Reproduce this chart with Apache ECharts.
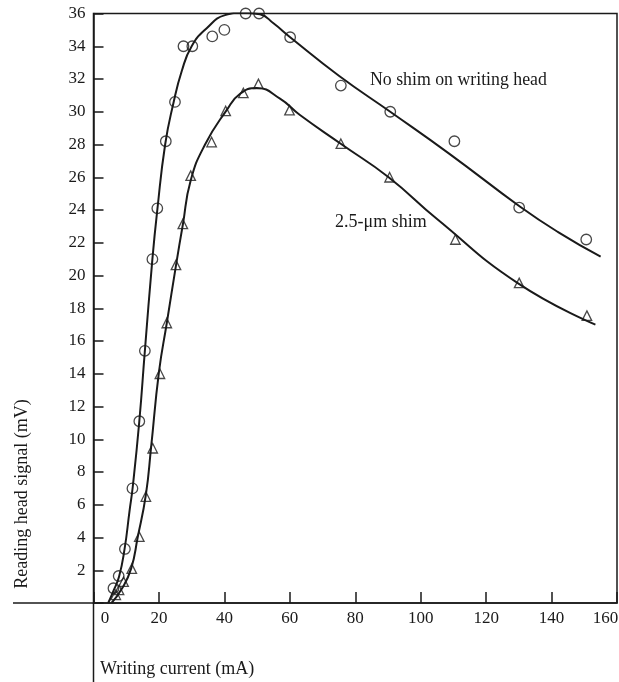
<!DOCTYPE html>
<html><head><meta charset="utf-8">
<script src="https://cdn.jsdelivr.net/npm/echarts@6/dist/echarts.min.js"></script>
<style>html,body{margin:0;padding:0;background:#fff}#c{width:619px;height:682px}</style>
</head><body><div id="c"></div>
<script>
// ---- data ----
const xTickValues = [0, 20, 40, 60, 80, 100, 120, 140, 160];
const yTickValues = [2, 4, 6, 8, 10, 12, 14, 16, 18, 20, 22, 24, 26, 28, 30, 32, 34, 36];
const seriesNames = ['No shim on writing head', '2.5-\u03bcm shim'];
const xAxisTitle = 'Writing current (mA)';
const yAxisTitle = 'Reading head signal (mV)';

// measured points: No shim (circles)
const noShimPoints = [
  [6.1, 0.9], [7.7, 1.65], [9.6, 3.3], [11.9, 7.0], [14.0, 11.1], [15.7, 15.4],
  [18.0, 21.0], [19.5, 24.1], [22.1, 28.2], [24.9, 30.6], [27.5, 34.0], [30.2, 34.0],
  [36.3, 34.6], [40.0, 35.0], [46.5, 36.0], [50.6, 36.0], [60.1, 34.55],
  [75.6, 31.6], [90.7, 30.0], [110.3, 28.2], [130.1, 24.15], [150.6, 22.2]
];
// measured points: 2.5-um shim (triangles)
const shimPoints = [
  [6.8, 0.5], [7.8, 0.8], [9.2, 1.3], [11.7, 2.1], [14.0, 4.05], [16.0, 6.5],
  [18.1, 9.45], [20.3, 14.0], [22.4, 17.1], [25.2, 20.65], [27.3, 23.15], [29.7, 26.1],
  [36.1, 28.15], [40.4, 30.05], [45.8, 31.15], [50.4, 31.7], [59.9, 30.1],
  [75.6, 28.05], [90.5, 26.0], [110.6, 22.2], [130.1, 19.55], [150.8, 17.55]
];
// fitted curves
const noShimCurve = [
  [4.5, 0], [6.0, 0.7], [7.8, 1.6], [9.5, 3.3], [11.0, 5.6], [12.0, 7.1], [14.0, 11.1],
  [15.7, 15.4], [18.0, 21.0], [19.5, 24.0], [21.9, 28.0], [24.4, 30.5], [27.0, 32.5],
  [30.0, 34.0], [34.6, 35.1], [40.2, 35.9], [45.8, 36.05], [50.9, 35.95], [55.0, 35.4],
  [60.1, 34.55], [75.0, 32.2], [90.7, 30.0], [109.0, 27.4], [130.4, 24.2], [142.0, 22.65],
  [155.0, 21.15]
];
const shimCurve = [
  [5.5, 0], [8.6, 0.85], [11.5, 2.1], [13.5, 4.0], [16.0, 6.6], [17.6, 9.5], [20.0, 14.1],
  [22.4, 17.1], [25.2, 20.6], [27.3, 23.1], [29.7, 25.8], [34.1, 28.0], [40.7, 30.1],
  [44.8, 31.1], [49.9, 31.45], [57.0, 30.8], [63.1, 29.8], [75.9, 28.0], [90.2, 26.0],
  [105.0, 23.45], [129.9, 19.5], [153.4, 17.0]
];

// ---- chart ----
const FONT = '"Liberation Serif", "DejaVu Serif", serif';
const INK = '#1a1a1a';
const chart = echarts.init(document.getElementById('c'), null, {renderer: 'canvas'});
const L = 93.5, R = 2, T = 13.5, B = 79;

chart.setOption({
  animation: false,
  backgroundColor: '#fff',
  grid: {left: L, right: R, top: T, bottom: B, containLabel: false, outerBoundsMode: 'none',
         show: true, borderColor: INK, borderWidth: 1.5, backgroundColor: 'transparent'},
  xAxis: {
    type: 'value', min: xTickValues[0], max: xTickValues[xTickValues.length - 1], interval: 20,
    axisLine: {lineStyle: {color: INK, width: 1.5}},
    axisTick: {inside: true, length: 11, lineStyle: {color: INK, width: 1.5}},
    splitLine: {show: false},
    axisLabel: {
      color: INK, fontFamily: FONT, fontSize: 17, margin: 7,
      formatter: function (v) {
        if (v === xTickValues[0]) return '{a|' + v + '}';
        if (v === xTickValues[xTickValues.length - 1]) return '{b|' + v + '}';
        return String(v);
      },
      rich: {
        a: {fontFamily: FONT, fontSize: 17, color: INK, padding: [0, 0, 0, 23]},
        b: {fontFamily: FONT, fontSize: 17, color: INK, padding: [0, 23, 0, 0]}
      }
    }
  },
  yAxis: {
    type: 'value', min: 0, max: yTickValues[yTickValues.length - 1], interval: 2,
    axisLine: {lineStyle: {color: INK, width: 1.5}},
    axisTick: {inside: true, length: 10, lineStyle: {color: INK, width: 1.5}},
    splitLine: {show: false},
    axisLabel: {
      color: INK, fontFamily: FONT, fontSize: 17, margin: 8,
      formatter: function (v) { return yTickValues.indexOf(v) >= 0 ? String(v) : ''; }
    }
  },
  series: [
    {type: 'line', name: seriesNames[0] + ' fit', data: noShimCurve, smooth: 0.5, showSymbol: false, symbol: 'none',
     lineStyle: {color: INK, width: 2}, z: 2, silent: true},
    {type: 'line', name: seriesNames[1] + ' fit', data: shimCurve, smooth: 0.5, showSymbol: false, symbol: 'none',
     lineStyle: {color: INK, width: 2}, z: 2, silent: true},
    {type: 'scatter', name: seriesNames[0], data: noShimPoints, symbol: 'circle', symbolSize: 10.5,
     itemStyle: {color: 'rgba(255,255,255,0)', borderColor: INK, borderWidth: 1.3}, z: 3},
    {type: 'scatter', name: seriesNames[1], data: shimPoints, symbol: 'triangle', symbolSize: 9.5,
     itemStyle: {color: 'rgba(255,255,255,0)', borderColor: INK, borderWidth: 1.3}, z: 3}
  ],
  graphic: [
    {type: 'line', shape: {x1: 13, y1: 682 - B, x2: L, y2: 682 - B}, style: {stroke: INK, lineWidth: 1.5}},
    {type: 'line', shape: {x1: L, y1: 682 - B, x2: L, y2: 682}, style: {stroke: INK, lineWidth: 1.5}},
    {type: 'text', x: 100, y: 669, style: {text: xAxisTitle, font: '18px ' + FONT, fill: INK, textVerticalAlign: 'middle', textAlign: 'left'}},
    {type: 'text', x: 22, y: 494, rotation: Math.PI / 2, style: {text: yAxisTitle, font: '18px ' + FONT, fill: INK, textVerticalAlign: 'middle', textAlign: 'center'}},
    {type: 'text', x: 370, y: 80, style: {text: seriesNames[0], font: '17.8px ' + FONT, fill: INK, textVerticalAlign: 'middle', textAlign: 'left'}},
    {type: 'text', x: 335, y: 222, style: {text: seriesNames[1], font: '18px ' + FONT, fill: INK, textVerticalAlign: 'middle', textAlign: 'left'}}
  ]
});
</script></body></html>
